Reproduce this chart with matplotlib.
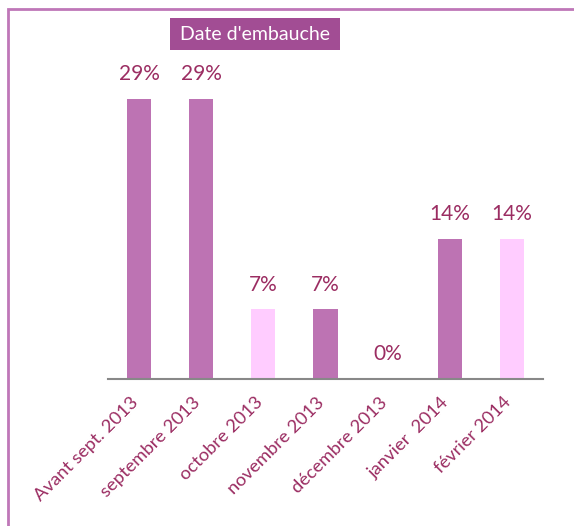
import numpy as np
import matplotlib.pyplot as plt
from matplotlib.patches import Rectangle
from matplotlib.transforms import ScaledTranslation

categories = ['Avant sept. 2013', 'septembre 2013', 'octobre 2013', 'novembre 2013',
              'décembre 2013', 'janvier  2014', 'février 2014']
values = [28.6, 28.6, 7.1, 7.1, 0.0, 14.3, 14.3]
labels = ['29%', '29%', '7%', '7%', '0%', '14%', '14%']
dark = '#BD73B3'
light = '#FFCCFF'
colors = [dark, dark, light, dark, dark, dark, light]
text_col = '#9B2D62'

plt.rcParams['font.family'] = ['Lato', 'DejaVu Sans']

fig = plt.figure(figsize=(5.74, 5.26), dpi=100)
W, H = 574, 526
ax = fig.add_axes([108/W, (H-379)/H, (543-108)/W, (379-50)/H])

x = np.arange(len(categories))
ax.bar(x, values, width=0.39, color=colors)
for xi, v, lab in zip(x, values, labels):
    ax.text(xi, v + 1.5, lab, ha='center', va='bottom', color=text_col, fontsize=15)

ax.set_xlim(-0.5, len(categories) - 0.5)
ax.set_ylim(0, 28.6 * 329 / 280)
ax.set_yticks([])
ax.set_xticks(x)
ax.set_xticklabels(categories, rotation=45, ha='right', rotation_mode='anchor',
                   color=text_col, fontsize=13.2)
ax.tick_params(axis='x', length=0, pad=11)
shift = ScaledTranslation(-9/100, 0, fig.dpi_scale_trans)
for t in ax.get_xticklabels():
    t.set_transform(t.get_transform() + shift)
for s in ['top', 'right', 'left']:
    ax.spines[s].set_visible(False)
ax.spines['bottom'].set_color('#888888')
ax.spines['bottom'].set_linewidth(1.5)

# frame around the chart
fig.patches.append(Rectangle((7.5/W, -0.1), 1.2, (H-8.5)/H + 0.1, transform=fig.transFigure,
                             fill=False, edgecolor='#BF77B8', linewidth=2))

# title box
fig.patches.append(Rectangle((170/W, (H-50)/H), 170/W, 32/H, transform=fig.transFigure,
                             facecolor='#A24D94', edgecolor='none'))
fig.text(255/W, (H-34)/H, "Date d'embauche", ha='center', va='center', color='white',
         fontsize=14)

fig.savefig('out.png', dpi=100)
